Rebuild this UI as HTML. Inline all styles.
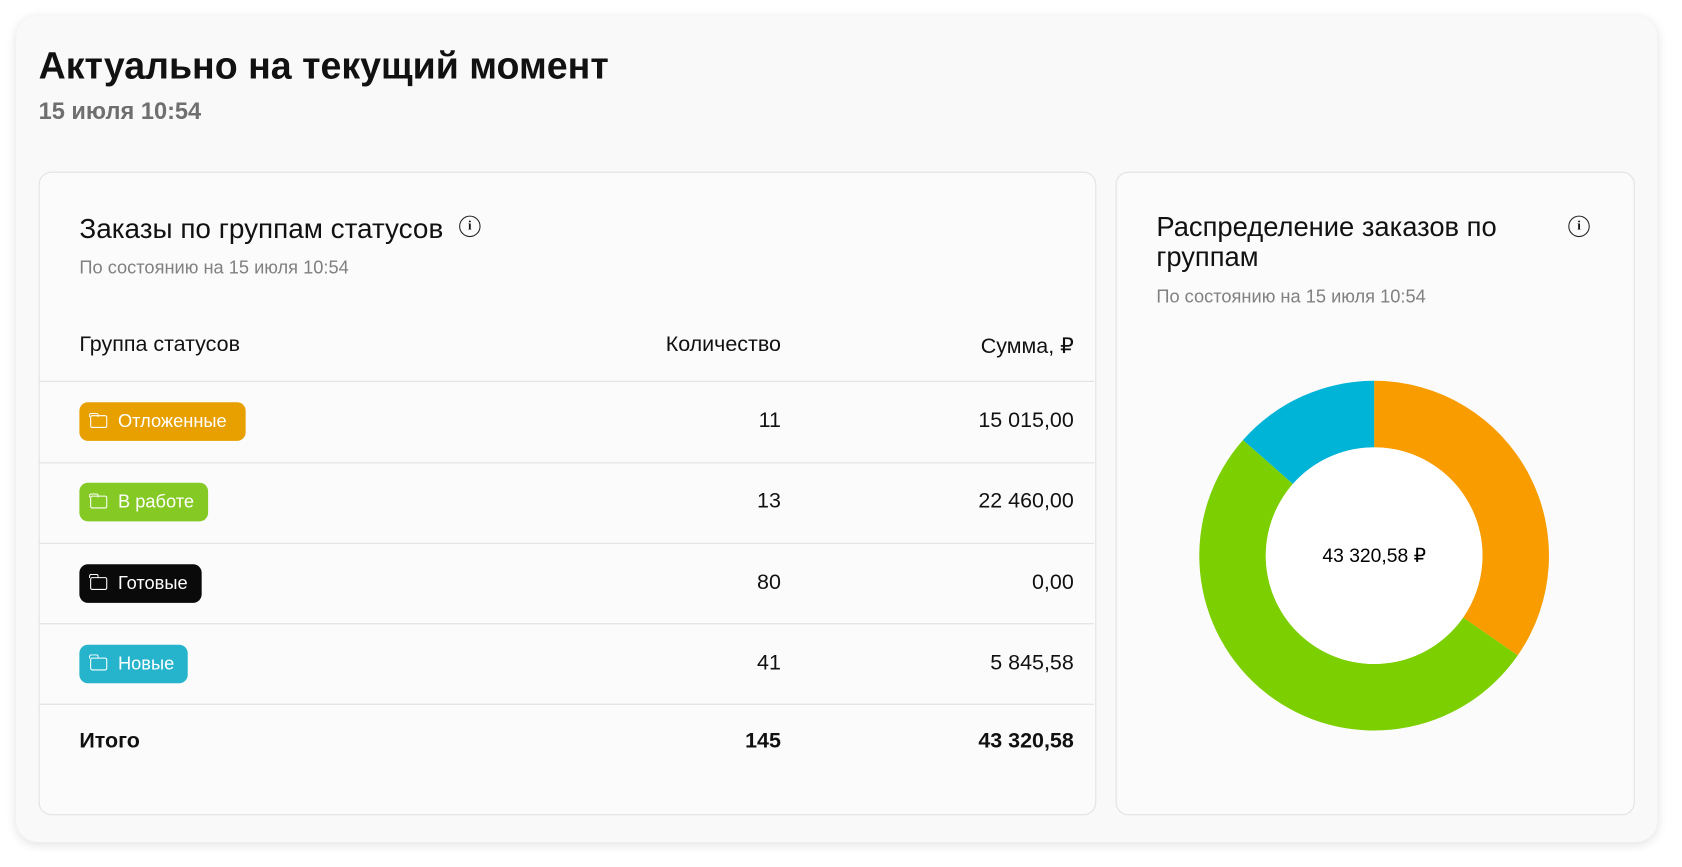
<!DOCTYPE html>
<html lang="ru"><head><meta charset="utf-8">
<style>
html,body{margin:0;padding:0;width:1682px;height:866px;overflow:hidden;background:#fff;}
body{font-family:"Liberation Sans","Noto Sans CJK SC",sans-serif;color:#111;}
#wrap{position:absolute;left:0;top:0;width:1568px;height:808px;transform:scale(1.07270);transform-origin:0 0;}
.abs{position:absolute;}
#outer{left:15px;top:15px;width:1530px;height:770px;border-radius:20px;background:#f9f9f9;box-shadow:0 2px 10px rgba(0,0,0,.12);}
.card{background:#fbfbfb;border:1px solid #e2e2e2;border-radius:12px;}
.info{width:20px;height:20px;border:1.6px solid #222;border-radius:50%;box-sizing:border-box;font:bold 12px "Liberation Serif",serif;text-align:center;line-height:17px;}
.line{height:1px;background:#e0e0e0;left:36px;width:984px;}
.badge{left:74px;height:36px;border-radius:8px;color:#fff;font-size:17px;line-height:36px;padding-left:36px;box-sizing:border-box;}
.badge .f{position:absolute;left:10px;top:12px;width:16px;height:12px;border:1.6px solid #fff;border-radius:2px;box-sizing:border-box;}
.badge .f:before{content:"";position:absolute;left:-1.6px;top:-3.5px;width:7px;height:3px;border:1.6px solid #fff;border-bottom:none;border-radius:2px 2px 0 0;}
.num{font-size:20px;text-align:right;}
</style></head><body>
<div id="wrap">
<div id="outer" class="abs"></div>
<div class="abs" style="left:36px;top:42px;font-size:35px;font-weight:bold;">Актуально на текущий момент</div>
<div class="abs" style="left:36px;top:91px;font-size:22px;font-weight:bold;color:#6f6f6f;">15 июля 10:54</div>

<div class="abs card" style="left:36px;top:160px;width:984px;height:598px;"></div>
<div class="abs" style="left:74px;top:198px;font-size:26px;font-weight:500;">Заказы по группам статусов</div>
<div class="abs info" style="left:428px;top:201px;">i</div>
<div class="abs" style="left:74px;top:240px;font-size:17px;color:#808080;">По состоянию на 15 июля 10:54</div>
<div class="abs" style="left:74px;top:310px;font-size:20px;">Группа статусов</div>
<div class="abs" style="left:528px;width:200px;top:310px;font-size:20px;text-align:right;">Количество</div>
<div class="abs" style="left:800px;width:201px;top:310px;font-size:20px;text-align:right;">Сумма, ₽</div>
<div class="abs line" style="top:355px;"></div>
<div id="rows"></div>

<div class="abs card" style="left:1040px;top:160px;width:482px;height:598px;"></div>
<div class="abs" style="left:1078px;top:198px;font-size:25.5px;font-weight:500;line-height:28px;width:370px;">Распределение заказов по группам</div>
<div class="abs info" style="left:1462px;top:201px;">i</div>
<div class="abs" style="left:1078px;top:267px;font-size:17px;color:#808080;">По состоянию на 15 июля 10:54</div>
<svg class="abs" style="left:0;top:0;" width="1568" height="808" id="donut"></svg>
</div>
<script>
const groups=["Отложенные","В работе","Готовые","Новые"];
const counts=[11,13,80,41];
const sums=[15015.00,22460.00,0.00,5845.58];
const sumLabels=["15 015,00","22 460,00","0,00","5 845,58"];
const totalCount="145";
const totalSum="43 320,58";
const badgeColors=["#e8a000","#84c924","#0a0a0a","#26b4cc"];
const sliceColors=["#f89c00","#7ccf00","#111111","#00b4d8"];
const badgeW=[155,120,114,101];

const rows=document.getElementById('rows');
groups.forEach((g,i)=>{
  const cy=393+i*75.3;
  const b=document.createElement('div');
  b.className='abs badge';b.style.top=(cy-18)+'px';b.style.width=badgeW[i]+'px';b.style.background=badgeColors[i];
  b.innerHTML='<span class="f"></span>'+g;
  
  
  rows.appendChild(b);
  const c=document.createElement('div');
  c.className='abs num';c.style.cssText+='left:528px;width:200px;top:'+(cy-12)+'px;';c.textContent=counts[i];
  
  
  rows.appendChild(c);
  const s=document.createElement('div');
  s.className='abs num';s.style.cssText+='left:800px;width:201px;top:'+(cy-12)+'px;';s.textContent=sumLabels[i];
  
  
  rows.appendChild(s);
  const l=document.createElement('div');
  l.className='abs line';l.style.top=(cy+37.5)+'px';
  
  
  rows.appendChild(l);
});
[["Итого",74,null,"total-label"],[totalCount,528,200,"total-count"],[totalSum,800,201,"total-sum"]].forEach(t=>{
  const d=document.createElement('div');
  d.className='abs';d.style.cssText='top:680px;font-size:20px;font-weight:bold;left:'+t[1]+'px;'+(t[2]?'width:'+t[2]+'px;text-align:right;':'');
  d.textContent=t[0];
  
  
  rows.appendChild(d);
});

const svg=document.getElementById('donut');const NS='http://www.w3.org/2000/svg';
const cx=1281,cy=518,R=163,r=101;
const total=sums.reduce((a,b)=>a+b,0);
let a0=0;
function pt(rad,a){return [cx+rad*Math.sin(a),cy-rad*Math.cos(a)];}
sums.forEach((v,i)=>{
  if(v<=0)return;
  const a1=a0+v/total*2*Math.PI;
  const large=(a1-a0)>Math.PI?1:0;
  const p1=pt(R,a0),p2=pt(R,a1),p3=pt(r,a1),p4=pt(r,a0);
  const p=document.createElementNS(NS,'path');
  p.setAttribute('d',`M${p1[0]},${p1[1]} A${R},${R} 0 ${large} 1 ${p2[0]},${p2[1]} L${p3[0]},${p3[1]} A${r},${r} 0 ${large} 0 ${p4[0]},${p4[1]} Z`);
  p.setAttribute('fill',sliceColors[i]);
  
  
  svg.appendChild(p);
  a0=a1;
});
const c=document.createElementNS(NS,'circle');c.setAttribute('cx',cx);c.setAttribute('cy',cy);c.setAttribute('r',r);c.setAttribute('fill','#fff');


svg.appendChild(c);
const t=document.createElementNS(NS,'text');t.setAttribute('x',cx);t.setAttribute('y',cy+6);t.setAttribute('text-anchor','middle');
t.setAttribute('font-size','18');t.setAttribute('font-family','Liberation Sans, sans-serif');t.textContent=totalSum+' ₽';


svg.appendChild(t);
</script>
</body></html>
